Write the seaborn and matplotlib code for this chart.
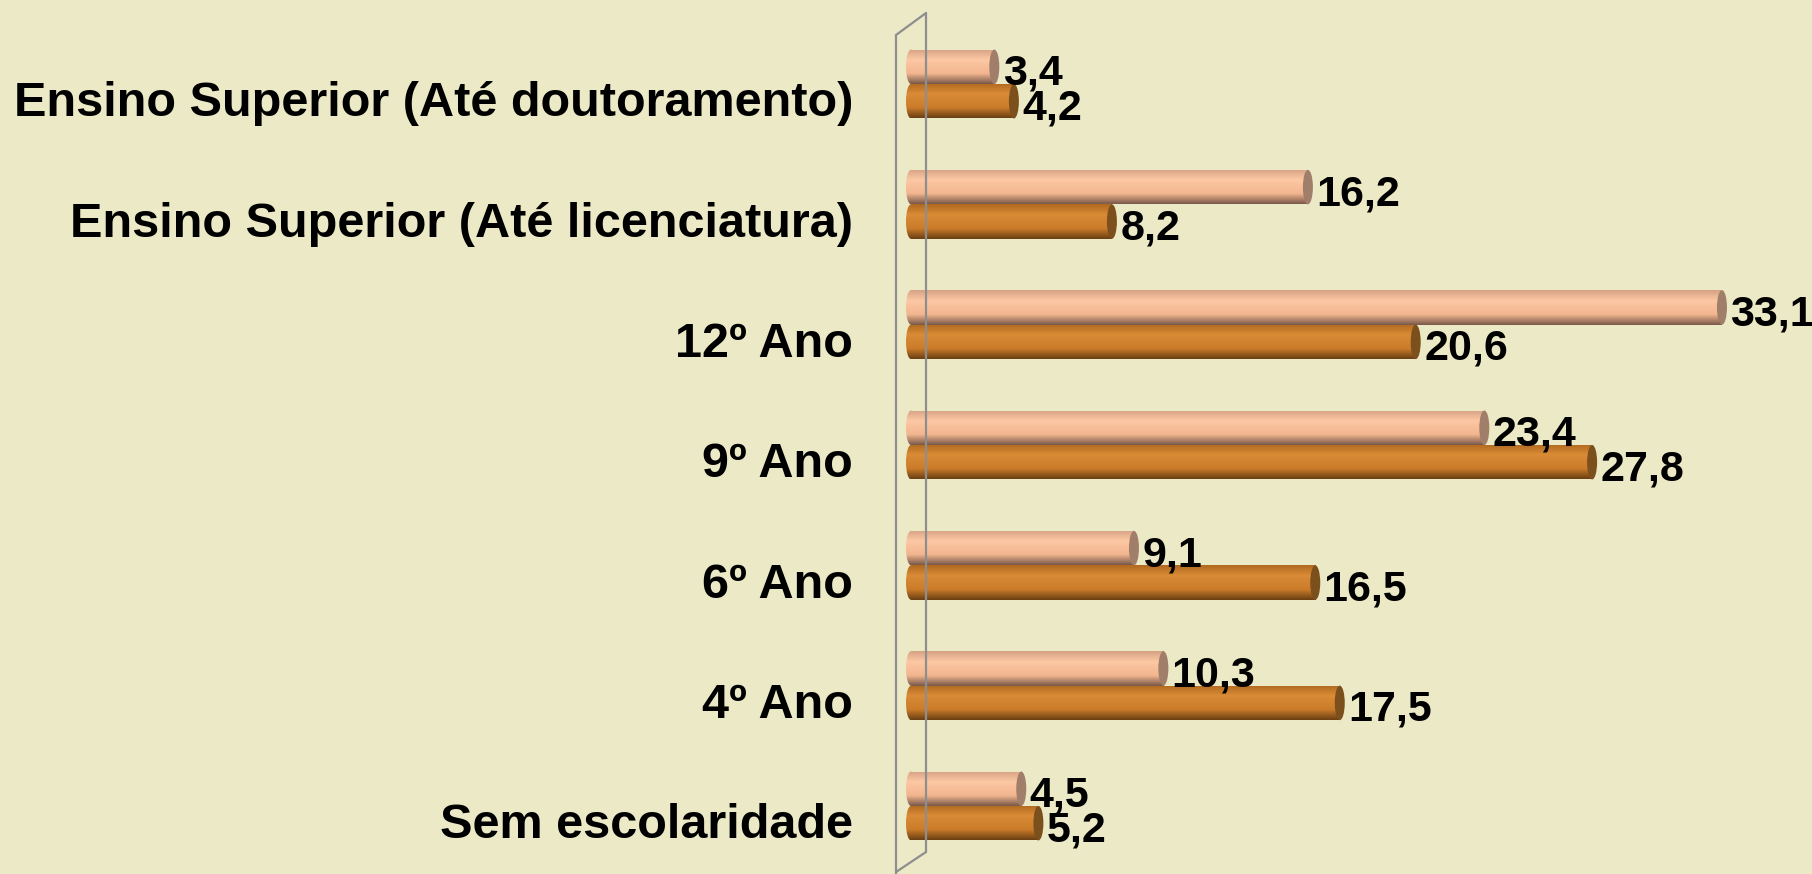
import numpy as np
import pandas as pd
import matplotlib
matplotlib.use("Agg")
import matplotlib.pyplot as plt
import seaborn as sns
from matplotlib.colors import LinearSegmentedColormap
from matplotlib.patches import Ellipse
from matplotlib.lines import Line2D
from matplotlib.transforms import ScaledTranslation

# ---- data ----
categories = [
    "Ensino Superior (Até doutoramento)",
    "Ensino Superior (Até licenciatura)",
    "12º Ano",
    "9º Ano",
    "6º Ano",
    "4º Ano",
    "Sem escolaridade",
]
series_names = ["Série 1", "Série 2"]
serie1 = [3.4, 16.2, 33.1, 23.4, 9.1, 10.3, 4.5]
serie2 = [4.2, 8.2, 20.6, 27.8, 16.5, 17.5, 5.2]

# ---- style ----
BG = "#ECE9C7"
PINK = "#F9C09B"
ORANGE = "#D4862F"
sns.set_style("white")
plt.rcParams["font.family"] = ["Liberation Sans", "DejaVu Sans"]

df = pd.DataFrame({
    "cat": categories * 2,
    "serie": [series_names[0]] * len(categories) + [series_names[1]] * len(categories),
    "valor": serie1 + serie2,
})

W, H = 1812, 874
fig = plt.figure(figsize=(W / 100, H / 100), dpi=100, facecolor=BG)
ax_left = 880
ax = fig.add_axes([ax_left / W, 0, 1 - ax_left / W, 1])
ax.set_facecolor(BG)

sns.barplot(data=df, y="cat", x="valor", hue="serie", order=categories,
            hue_order=series_names, palette=[PINK, ORANGE], width=0.573,
            orient="h", legend=False, ax=ax, saturation=1, linewidth=0)

px_per_unit = 24.5
zero_px = 911
pitch = 120.33
first_center = 84
xlim = ((ax_left - zero_px) / px_per_unit, (W - zero_px) / px_per_unit)
ylim = ((H - first_center) / pitch, -first_center / pitch)

cmaps = {
    0: LinearSegmentedColormap.from_list("p", [(0, "#D6A285"), (0.3, "#FCC8A3"), (0.7, "#F2B690"), (1, "#7A5A4A")]),
    1: LinearSegmentedColormap.from_list("o", [(0, "#B06A20"), (0.3, "#DA8B36"), (0.7, "#CB7C2A"), (1, "#6B4014")]),
}
cap_colors = {0: "#A07E6A", 1: "#7C501C"}
grad = np.linspace(0, 1, 64).reshape(-1, 1)
cap_w = 10 / px_per_unit

for si, cont in enumerate(ax.containers):
    vals = [serie1, serie2][si]
    for bar, v in zip(cont, vals):
        x0, y0 = bar.get_x(), bar.get_y()
        w, h = bar.get_width(), bar.get_height()
        # left rounded end, shaded like the body
        left = Ellipse((x0, y0 + h / 2), cap_w, h, facecolor="none", edgecolor="none", zorder=1.5)
        ax.add_patch(left)
        iml = ax.imshow(grad, extent=(x0 - cap_w, x0 + cap_w, y0 + h, y0), aspect="auto",
                        cmap=cmaps[si], origin="upper", zorder=1.6, interpolation="bilinear")
        iml.set_clip_path(left)
        im = ax.imshow(grad, extent=(x0, x0 + w, y0 + h, y0), aspect="auto",
                       cmap=cmaps[si], origin="upper", zorder=2.1, interpolation="bilinear")
        im.set_clip_path(bar)
        ax.add_patch(Ellipse((x0 + w, y0 + h / 2), cap_w, h, facecolor=cap_colors[si],
                             edgecolor="none", zorder=2.2))
        ax.annotate(f"{v:.1f}".replace(".", ","), xy=(x0 + w, y0 + h / 2),
                    xytext=(6, -5), textcoords="offset points", ha="left", va="center",
                    fontsize=31, fontweight="bold", color="black", zorder=3)

ax.set_xlim(*xlim)
ax.set_ylim(*ylim)
ax.set_xlabel("")
ax.set_ylabel("")
ax.set_xticks([])
for s in ax.spines.values():
    s.set_visible(False)
ax.tick_params(axis="y", length=0, pad=19.4, labelcolor="black")
for lab in ax.get_yticklabels():
    lab.set_fontsize(35)
    lab.set_fontweight("bold")
    lab.set_color("black")
    lab.set_transform(lab.get_transform() + ScaledTranslation(0, -15 / 100, fig.dpi_scale_trans))

# 3D wall outline
def fx(p):
    return p / W
def fy(p):
    return 1 - p / H
wall = "#8E8E8E"
segs = [((896, 35), (896, 874)), ((926, 13), (926, 852)),
        ((896, 35), (926, 13)), ((926, 852), (896, 872))]
for (a, b) in segs:
    fig.add_artist(Line2D([fx(a[0]), fx(b[0])], [fy(a[1]), fy(b[1])],
                          color=wall, lw=1.6, zorder=0.5))

fig.savefig("out.png", dpi=100, facecolor=BG)
